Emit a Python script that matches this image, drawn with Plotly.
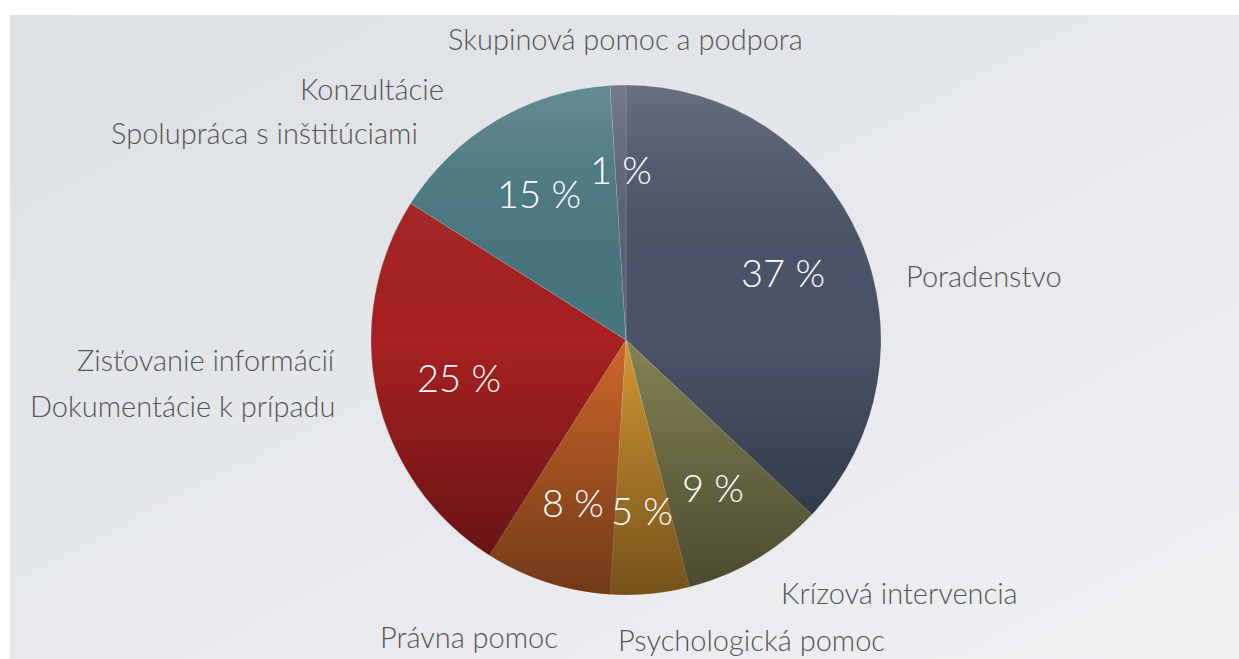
import math
import base64
import plotly.graph_objects as go

# ---- data ----
categories = [
    "Poradenstvo",
    "Krízová intervencia",
    "Psychologická pomoc",
    "Právna pomoc",
    "Zisťovanie informácií<br>Dokumentácie k prípadu",
    "Konzultácie<br>Spolupráca s inštitúciami",
    "Skupinová pomoc a podpora",
]
values = [37, 9, 5, 8, 25, 15, 1]

# ---- style ----
colors = ["#4a5368", "#838254", "#d29631", "#cc672b", "#a82020", "#487780", "#5a6175"]

W, H = 1239, 659
CX, CY, R = 626, 340, 255  # pie centre / radius in pixels (layout)

def px(x):
    return x / W

def py(y):
    return 1 - y / H

# outside label placement (pixel anchors), one per text line
label_lines = [
    # (text, x, y, xanchor)
    (categories[6], 625, 38, "center"),
    (categories[5].split("<br>")[0], 446, 89, "right"),
    (categories[5].split("<br>")[1], 420, 132, "right"),
    (categories[0], 904, 275, "left"),
    (categories[4].split("<br>")[0], 337, 360, "right"),
    (categories[4].split("<br>")[1], 337, 405, "right"),
    (categories[1], 779, 592, "left"),
    (categories[3], 378, 636, "left"),
    (categories[2], 616, 639, "left"),
]

FONT = "Lato"


def svg_uri(svg):
    return "data:image/svg+xml;base64," + base64.b64encode(svg.encode()).decode()


# vertical shading overlay for the pie (light at top, dark at bottom)
shade_svg = (
    "<svg xmlns='http://www.w3.org/2000/svg' width='510' height='510' viewBox='0 0 510 510'>"
    "<defs><linearGradient id='g' x1='0' y1='0' x2='0' y2='1'>"
    "<stop offset='0' stop-color='white' stop-opacity='0.16'/>"
    "<stop offset='0.5' stop-color='black' stop-opacity='0'/>"
    "<stop offset='1' stop-color='black' stop-opacity='0.45'/>"
    "</linearGradient></defs>"
    "<circle cx='255' cy='255' r='255' fill='url(#g)'/></svg>"
)

# slide background gradient
bg_svg = (
    "<svg xmlns='http://www.w3.org/2000/svg' width='1229' height='644' viewBox='0 0 1229 644' preserveAspectRatio='none'>"
    "<defs><linearGradient id='b' x1='0' y1='0' x2='1' y2='1'>"
    "<stop offset='0' stop-color='#dde0e4'/>"
    "<stop offset='0.6' stop-color='#e8eaed'/>"
    "<stop offset='1' stop-color='#eef0f2'/>"
    "</linearGradient></defs>"
    "<rect width='1229' height='644' fill='url(#b)'/></svg>"
)

fig = go.Figure()
fig.add_trace(
    go.Pie(
        labels=categories,
        values=values,
        sort=False,
        direction="clockwise",
        rotation=0,
        textinfo="none",
        marker=dict(colors=colors, line=dict(width=0.6, color="rgba(255,255,255,0.25)")),
        domain=dict(x=[px(CX - R), px(CX + R)], y=[py(CY + R), py(CY - R)]),
        showlegend=False,
        hovertemplate="%{label}: %{value} %<extra></extra>",
    )
)

annotations = []
# percentage labels, placed along each slice's mid angle
total = sum(values)
cum = 0
for v in values:
    mid = (cum + v / 2) / total * 2 * math.pi
    cum += v
    tx = CX + 0.67 * R * math.sin(mid)
    ty = CY - 0.67 * R * math.cos(mid)
    annotations.append(
        dict(
            text=f"{v} %", x=px(tx), y=py(ty), xref="paper", yref="paper",
            xanchor="center", yanchor="middle", showarrow=False,
            font=dict(family=FONT, size=38, color="white", weight=300),
        )
    )

for text, x, y, xa in label_lines:
    annotations.append(
        dict(
            text=text, x=px(x), y=py(y), xref="paper", yref="paper",
            xanchor=xa, yanchor="middle", showarrow=False,
            font=dict(family=FONT, size=29, color="#555555", weight=300),
        )
    )

fig.update_layout(
    width=W,
    height=H,
    margin=dict(l=0, r=0, t=0, b=0),
    paper_bgcolor="#e9ebee",
    plot_bgcolor="#e9ebee",
    annotations=annotations,
    shapes=[
        dict(type="rect", xref="paper", yref="paper", x0=0, x1=1, y0=py(15), y1=1,
             fillcolor="white", line=dict(width=0), layer="below"),
        dict(type="rect", xref="paper", yref="paper", x0=0, x1=px(10), y0=0, y1=1,
             fillcolor="white", line=dict(width=0), layer="below"),
    ],
    images=[
        dict(
            source=svg_uri(bg_svg), xref="paper", yref="paper",
            x=px(10), y=py(15), sizex=1 - px(10), sizey=py(15),
            xanchor="left", yanchor="top", sizing="stretch", layer="below",
        ),
        dict(
            source=svg_uri(shade_svg), xref="paper", yref="paper",
            x=px(CX - R), y=py(CY - R), sizex=2 * R / W, sizey=2 * R / H,
            xanchor="left", yanchor="top", sizing="stretch", layer="above",
        ),
    ],
)

fig.write_html(
    "out.html",
    config={"displayModeBar": False},
    post_script="document.body.style.margin='0';document.body.style.overflow='hidden';",
)
